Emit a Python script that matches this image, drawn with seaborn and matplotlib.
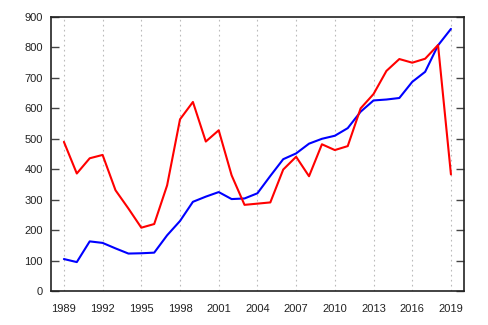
import numpy as np
import pandas as pd
import seaborn as sns
import matplotlib
matplotlib.use("Agg")
import matplotlib.pyplot as plt

years = list(range(1989, 2020))
blue_vals = [105, 95, 163, 158, 140, 123, 124, 126, 183, 230, 293, 310, 325, 302, 304,
             321, 378, 433, 452, 484, 500, 510, 535, 589, 626, 629, 634, 687, 720, 807, 861]
red_vals = [490, 386, 436, 447, 331, 271, 208, 220, 347, 564, 621, 491, 528, 380, 283,
            287, 291, 399, 441, 377, 482, 463, 476, 600, 647, 723, 762, 750, 763, 808, 383]
xtick_years = [1989, 1992, 1995, 1998, 2001, 2004, 2007, 2010, 2013, 2016, 2019]
ytick_vals = [0, 100, 200, 300, 400, 500, 600, 700, 800, 900]

df = pd.DataFrame({"year": years + years,
                   "value": blue_vals + red_vals,
                   "series": ["blue"] * len(years) + ["red"] * len(years)})

sns.set_style("white")
plt.rcParams["font.family"] = ["Liberation Sans", "DejaVu Sans"]

fig = plt.figure(figsize=(4.88, 3.25), dpi=100)
ax = fig.add_axes([0.1045, 0.1046, 0.846, 0.843])

sns.lineplot(data=df, x="year", y="value", hue="series",
             palette={"blue": "#0000ff", "red": "#ff0000"},
             linewidth=1.5, legend=False, ax=ax)

ax.set_xlim(1988, 2020)
ax.set_ylim(0, 900)
ax.set_xticks(xtick_years)
ax.set_yticks(ytick_vals)
ax.set_xlabel("")
ax.set_ylabel("")
ax.xaxis.grid(True, linestyle=(0, (1.5, 3)), color="#bbbbbb", linewidth=0.8)
ax.yaxis.grid(False)
for s in ax.spines.values():
    s.set_color("#222222")
    s.set_linewidth(1.2)
ax.tick_params(axis="x", length=0, pad=9, labelsize=8, labelcolor="#222222")
ax.tick_params(axis="y", direction="in", length=6, width=1, color="#444444",
               left=True, right=True, labelsize=8, labelcolor="#222222", pad=6)

fig.savefig("out.png", dpi=100)
